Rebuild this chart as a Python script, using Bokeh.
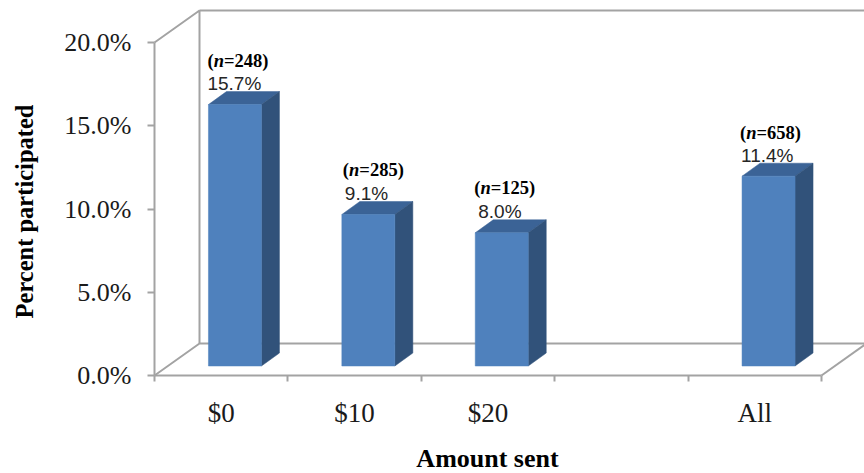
from bokeh.plotting import figure
from bokeh.models import Range1d, LinearAxis, FixedTicker, PrintfTickFormatter, ColumnDataSource
from bokeh.core.properties import value as V
from bokeh.embed import file_html
from bokeh.resources import INLINE

categories = ["$0", "$10", "$20", "All"]
slots = [0, 1, 2, 4]
values = [15.7, 9.1, 8.0, 11.4]
n_counts = [248, 285, 125, 658]
y_ticks = [0, 5, 10, 15, 20]
x_ticks = [0, 1, 2, 3, 4, 5]
x_title = "Amount sent"
y_title = "Percent participated"

# layout (data-unit geometry of the pseudo-3D box and bars)
PX_X, PX_Y = 133.4, 16.65
WALL_DX, WALL_DY = 45 / PX_X, 32 / PX_Y
BAR_DX, BAR_DY = 18 / PX_X, 13 / PX_Y
BAR_BASE = 0.57
BAR_W = 53 / PX_X
BAR_C = 0.603
GRAY = "#a3a3a3"
SERIF = "Liberation Serif"
ORIGIN_X, ORIGIN_Y = 154, 375  # where data (0, 0) falls on the canvas

W, H = 864, 473
X_END = (W - ORIGIN_X) / PX_X
p = figure(width=W, height=H, output_backend="svg", toolbar_location=None,
           x_range=Range1d(-ORIGIN_X / PX_X, X_END),
           y_range=Range1d((ORIGIN_Y - H) / PX_Y, ORIGIN_Y / PX_Y),
           x_axis_type=None, y_axis_type=None,
           min_border_left=0, min_border_right=0, min_border_top=0, min_border_bottom=0,
           outline_line_color=None, background_fill_color="white")
p.xgrid.visible = False
p.ygrid.visible = False

# walls and floor
xr = x_ticks[-1]
xb = WALL_DX
yt = y_ticks[-1] + WALL_DY
p.line([0, xb, xb], [y_ticks[-1], yt, WALL_DY], line_color=GRAY, line_width=2)
p.line([xb, X_END], [yt, yt], line_color=GRAY, line_width=2)
p.line([0, xb, X_END], [0, WALL_DY, WALL_DY], line_color=GRAY, line_width=2)
p.line([xr, xr + WALL_DX], [0, WALL_DY], line_color=GRAY, line_width=2)

# bars
lefts = [s + BAR_C - BAR_W / 2 for s in slots]
rights = [s + BAR_C + BAR_W / 2 for s in slots]
tops = [v + BAR_BASE for v in values]
src = ColumnDataSource(dict(left=lefts, right=rights, top=tops, bottom=[BAR_BASE] * 4))
p.patches([[l, r, r + BAR_DX, l + BAR_DX] for l, r in zip(lefts, rights)],
          [[t, t, t + BAR_DY, t + BAR_DY] for t in tops],
          fill_color="#3b6396", line_color="#3b6396", line_width=0.5)
p.patches([[r, r + BAR_DX, r + BAR_DX, r] for r in rights],
          [[BAR_BASE, BAR_BASE + BAR_DY, t + BAR_DY, t] for t in tops],
          fill_color="#31527a", line_color="#31527a", line_width=0.5)
p.quad(left="left", right="right", top="top", bottom="bottom", source=src,
       fill_color="#4f81bd", line_color="#4f81bd", line_width=0.5)

# data labels
val_text = [f"{v:.1f}%" for v in values]
val_dx = [-1, 3, 3, -1]
n_dx = [-1, 1, -1, -2]
n_dy = [-44, -44, -45, -43]
p.text(lefts, tops, text=val_text, x_offset=val_dx, y_offset=-21,
       text_font=V("Liberation Sans"), text_font_size="19px", text_color="#262626",
       text_baseline="middle", text_align="left")
for frag, off, style in (("(", 0, "bold"), ("n", 6.2, "bold italic"), (None, 16.5, "bold")):
    txt = [frag or f"={c})" for c in n_counts]
    p.text(lefts, tops, text=txt, x_offset=[d + off for d in n_dx], y_offset=n_dy,
           text_font=V(SERIF), text_font_size="18.5px", text_font_style=style,
           text_color="black", text_baseline="middle", text_align="left")

# axes
ya = LinearAxis(ticker=FixedTicker(ticks=y_ticks), formatter=PrintfTickFormatter(format="%.1f%%"),
                fixed_location=0,
                bounds=(y_ticks[0], y_ticks[-1]), axis_line_color=GRAY, axis_line_width=2,
                major_tick_line_color=GRAY, major_tick_line_width=2,
                major_tick_out=7, major_tick_in=0, minor_tick_line_color=None,
                major_label_standoff=16, major_label_text_font=SERIF,
                major_label_text_font_size="26px", major_label_text_color="#1a1a1a")
p.add_layout(ya, "left")

xa = LinearAxis(ticker=FixedTicker(ticks=x_ticks), bounds=(x_ticks[0], x_ticks[-1]),
                fixed_location=0,
                axis_line_color=GRAY, axis_line_width=2,
                major_tick_line_color=GRAY, major_tick_line_width=2,
                major_tick_out=6, major_tick_in=0, minor_tick_line_color=None,
                major_label_text_color=None, major_label_text_font_size="1px",
                major_label_standoff=0)
p.add_layout(xa, "below")
xl = LinearAxis(ticker=FixedTicker(ticks=[s + 0.5 for s in slots]),
                major_label_overrides={s + 0.5: c for s, c in zip(slots, categories)},
                fixed_location=0,
                axis_line_color=None, major_tick_line_color=None, minor_tick_line_color=None,
                major_label_standoff=16, major_label_text_font=SERIF,
                major_label_text_font_size="27px", major_label_text_color="#1a1a1a")
p.add_layout(xl, "below")

# axis titles
p.text([(24 - ORIGIN_X) / PX_X], [(ORIGIN_Y - 211) / PX_Y], text=[y_title], angle=90, angle_units="deg",
       text_font=V(SERIF), text_font_style="bold", text_font_size="24.5px",
       text_color="black", text_align="center", text_baseline="middle")
p.text([(487 - ORIGIN_X) / PX_X], [(ORIGIN_Y - 458) / PX_Y], text=[x_title],
       text_font=V(SERIF), text_font_style="bold", text_font_size="26px",
       text_color="black", text_align="center", text_baseline="middle")

open("out.html", "w").write(file_html(p, INLINE))
